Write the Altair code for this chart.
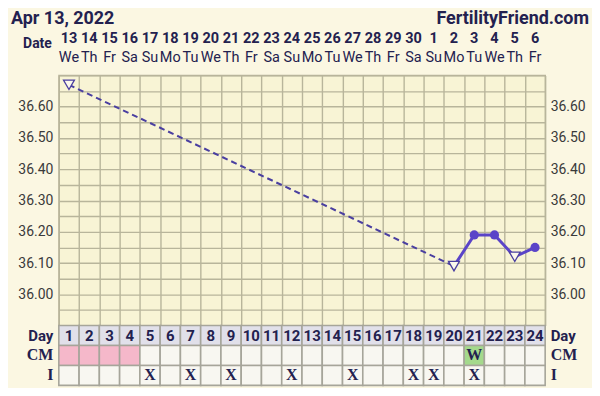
import altair as alt
import pandas as pd

# ---------------- data ----------------
days = list(range(1, 25))
dates = ["13", "14", "15", "16", "17", "18", "19", "20", "21", "22", "23", "24",
         "25", "26", "27", "28", "29", "30", "1", "2", "3", "4", "5", "6"]
weekdays = ["We", "Th", "Fr", "Sa", "Su", "Mo", "Tu", "We", "Th", "Fr", "Sa", "Su",
            "Mo", "Tu", "We", "Th", "Fr", "Sa", "Su", "Mo", "Tu", "We", "Th", "Fr"]

temp_days = [1, 20, 21, 22, 23, 24]
temps = [36.67, 36.09, 36.19, 36.19, 36.12, 36.15]
temp_marker = ["open", "open", "filled", "filled", "open", "filled"]
gap_days = [1, 20]            # connected by dashed line (missing days between)
solid_days = [20, 21, 22, 23, 24]

temp_ticks = [35.90, 35.95, 36.00, 36.05, 36.10, 36.15, 36.20, 36.25, 36.30,
              36.35, 36.40, 36.45, 36.50, 36.55, 36.60, 36.65, 36.70]

cm_days = [1, 2, 3, 4, 21]
cm_kind = ["menses", "menses", "menses", "menses", "watery"]
cm_label = ["", "", "", "", "W"]
intercourse_days = [5, 7, 9, 12, 15, 18, 19, 21]

rows = ["Day", "CM", "I"]
title_left = "Apr 13, 2022"
title_right = "FertilityFriend.com"

# ---------------- style ----------------
BG = "#fbf7e2"
PLOT_BG = "#f8f4d5"
GRID = "#b8b59b"
NAVY = "#23214f"
CELL_STROKE = "#a6a59a"
W = 488

X_SCALE = alt.Scale(domain=[0.5, 24.5], nice=False, zero=False)
Y_SCALE = alt.Scale(domain=[35.9, 36.7], nice=False, zero=False)
x_bounds = [d - 0.5 for d in days] + [days[-1] + 0.5]

# ---------------- header ----------------
hdr_df = pd.DataFrame({"day": days, "date": dates, "wd": weekdays})
hx = alt.X("day:Q", scale=X_SCALE, axis=None)
date_txt = alt.Chart(hdr_df).mark_text(
    font="Roboto", fontWeight="bold", fontSize=14.5, color=NAVY, baseline="middle"
).encode(x=hx, y=alt.value(29), text="date:N")
wd_txt = alt.Chart(hdr_df).mark_text(
    font="Roboto", fontSize=14.5, color=NAVY, baseline="middle"
).encode(x=hx, y=alt.value(49), text="wd:N")

lbl_df = pd.DataFrame({"t": ["Date"]})
date_lbl = alt.Chart(lbl_df).mark_text(
    font="Roboto", fontWeight="bold", fontSize=14, color=NAVY, align="right", baseline="middle"
).encode(x=alt.value(-7), y=alt.value(34), text="t:N")

tl_df = pd.DataFrame({"t": [title_left]})
t_left = alt.Chart(tl_df).mark_text(
    font="Roboto", fontWeight="bold", fontSize=18, color=NAVY, align="left", baseline="top"
).encode(x=alt.value(-48), y=alt.value(0), text="t:N")
tr_df = pd.DataFrame({"t": [title_right]})
t_right = alt.Chart(tr_df).mark_text(
    font="Roboto", fontWeight="bold", fontSize=18, color=NAVY, align="right", baseline="top"
).encode(x=alt.value(532), y=alt.value(0), text="t:N")

header = alt.layer(date_txt, wd_txt, date_lbl, t_left, t_right).properties(
    width=W, height=66,
    view=alt.ViewBackground(stroke="transparent", fill="transparent"),
)

# ---------------- temperature chart ----------------
temp_df = pd.DataFrame({"day": temp_days, "temp": temps, "kind": temp_marker})
dashed_df = temp_df[temp_df["day"].isin(gap_days)]
solid_df = temp_df[temp_df["day"].isin(solid_days)]

label_expr = ("(datum.value > 35.95 && datum.value < 36.65 && "
              "abs(datum.value*10 - round(datum.value*10)) < 0.01) ? format(datum.value, '.2f') : ''")

x_axis = alt.Axis(values=x_bounds, grid=True, gridColor=GRID, gridWidth=1.4,
                  labels=False, ticks=False, domain=False, title=None)
x_enc = alt.X("day:Q", scale=X_SCALE, axis=x_axis)

y_left = alt.Y("temp:Q", scale=Y_SCALE, title=None, axis=alt.Axis(
    orient="left", values=temp_ticks, grid=True, gridColor=GRID, gridWidth=1.4,
    ticks=False, domain=False, labelExpr=label_expr, labelFont="Roboto",
    labelFontSize=14, labelColor="#3a3a3a", labelPadding=6))
y_right = alt.Y("temp:Q", scale=Y_SCALE, title=None, axis=alt.Axis(
    orient="right", values=temp_ticks, grid=False,
    ticks=False, domain=False, labelExpr=label_expr, labelFont="Roboto",
    labelFontSize=14, labelColor="#3a3a3a", labelPadding=5))
y_none = alt.Y("temp:Q", scale=Y_SCALE, title=None, axis=None)

dashed = alt.Chart(dashed_df).mark_line(
    color="#4a3fa0", strokeWidth=2, strokeDash=[6, 4]
).encode(x=x_enc, y=y_left)
solid = alt.Chart(solid_df).mark_line(
    color="#5a44c8", strokeWidth=3
).encode(x=x_enc, y=y_right)
filled = alt.Chart(temp_df).transform_filter("datum.kind == 'filled'").mark_point(
    shape="circle", filled=True, size=85, color="#5a44c8", opacity=1
).encode(x=x_enc, y=y_none)
openm = alt.Chart(temp_df).transform_filter("datum.kind == 'open'").mark_point(
    shape="triangle-down", filled=True, size=120, fill="#fbf8ec", stroke="#4a3fa0",
    strokeWidth=1.3, opacity=1
).encode(x=x_enc, y=y_none)

temp_chart = alt.layer(dashed, solid, filled, openm).resolve_axis(y="independent").properties(
    width=W, height=251,
    view=alt.ViewBackground(stroke=GRID, strokeWidth=1.4, fill=PLOT_BG),
)

# ---------------- bottom table ----------------
cells = []
for d in days:
    for r in rows:
        if r == "Day":
            kind = "header"
        elif r == "CM" and d in cm_days:
            kind = cm_kind[cm_days.index(d)]
        else:
            kind = "blank"
        cells.append({"day": d, "row": r, "kind": kind})
cells_df = pd.DataFrame(cells)

texts = []
for d in days:
    texts.append({"day": d, "row": "Day", "t": str(d), "style": "sans"})
for d, lab in zip(cm_days, cm_label):
    if lab:
        texts.append({"day": d, "row": "CM", "t": lab, "style": "serif"})
for d in intercourse_days:
    texts.append({"day": d, "row": "I", "t": "X", "style": "serif"})
texts_df = pd.DataFrame(texts)

Y_ROWS = alt.Scale(domain=rows, paddingInner=0, paddingOuter=0)
row_font = {"condition": {"test": "datum.value == 'Day'", "value": "Roboto"},
            "value": "Liberation Serif"}
row_size = {"condition": {"test": "datum.value == 'Day'", "value": 15},
            "value": 16}
yl = alt.Y("row:N", scale=Y_ROWS, title=None, axis=alt.Axis(
    orient="left", ticks=False, domain=False, grid=False, labelFont=row_font,
    labelFontSize=row_size, labelFontWeight="bold", labelColor=NAVY, labelPadding=6))
yr = alt.Y("row:N", scale=Y_ROWS, title=None, axis=alt.Axis(
    orient="right", ticks=False, domain=False, grid=False, labelFont=row_font,
    labelFontSize=row_size, labelFontWeight="bold", labelColor=NAVY, labelPadding=5))
yn = alt.Y("row:N", scale=Y_ROWS, title=None, axis=None)
tx = alt.X("day:Q", scale=X_SCALE, axis=None)

rects = alt.Chart(cells_df).transform_calculate(
    x0="datum.day - 0.5", x1="datum.day + 0.5"
).mark_rect(stroke=CELL_STROKE, strokeWidth=1.6).encode(
    x=alt.X("x0:Q", scale=X_SCALE, axis=None),
    x2="x1:Q",
    y=yl,
    fill=alt.Fill("kind:N", legend=None, scale=alt.Scale(
        domain=["header", "menses", "watery", "blank"],
        range=["#e1e0ea", "#f5b8ca", "#a4d98c", "#f8f7f1"])),
)
right_lbl = alt.Chart(cells_df).transform_filter("datum.day == 24").mark_rect(
    opacity=0).encode(x=tx, y=yr)
sans_txt = alt.Chart(texts_df).transform_filter("datum.style == 'sans'").mark_text(
    font="Roboto", fontWeight="bold", fontSize=15, color=NAVY, baseline="middle"
).encode(x=tx, y=yn, text="t:N")
serif_txt = alt.Chart(texts_df).transform_filter("datum.style == 'serif'").mark_text(
    font="Liberation Serif", fontWeight="bold", fontSize=16, color=NAVY, baseline="middle"
).encode(x=tx, y=yn, text="t:N")

table = alt.layer(rects, right_lbl, sans_txt, serif_txt).resolve_axis(y="independent").properties(
    width=W, height=60,
    view=alt.ViewBackground(stroke="transparent", fill="transparent"),
)

chart = alt.vconcat(header, temp_chart, table, spacing=0, bounds="flush").properties(
    padding={"left": 2, "top": 0, "right": 2, "bottom": 0}
).configure(background=BG)

chart.save("out.html", embed_options={"renderer": "svg", "actions": False})
